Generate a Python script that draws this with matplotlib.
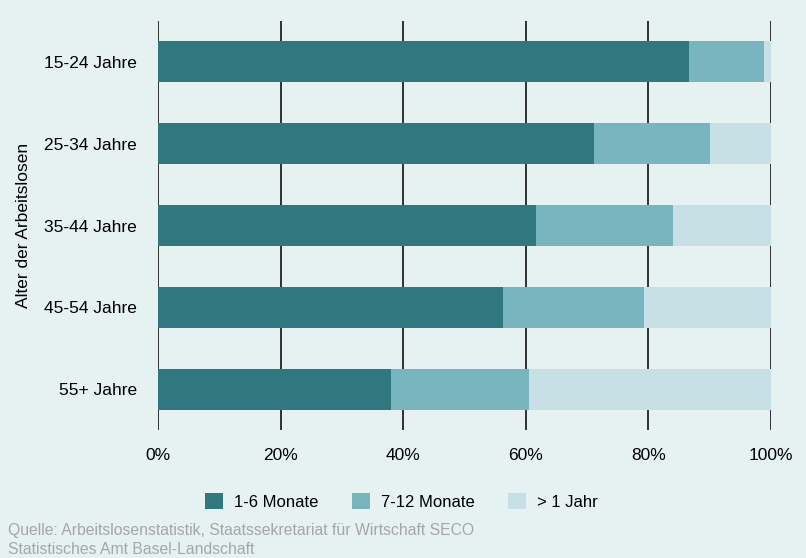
import numpy as np
import matplotlib.pyplot as plt

plt.rcParams['font.family'] = ['Liberation Sans', 'DejaVu Sans']

groups = ['15-24 Jahre', '25-34 Jahre', '35-44 Jahre', '45-54 Jahre', '55+ Jahre']
kurz = [86.6, 71.1, 61.7, 56.3, 38.0]
mittel = [12.3, 18.9, 22.3, 23.0, 22.5]
lang = [1.1, 10.0, 16.0, 20.7, 39.5]
series = ['1-6 Monate', '7-12 Monate', '> 1 Jahr']
colors = ['#307780', '#79b5bf', '#c6e0e5']
bg = '#e6f1f1'

fig = plt.figure(figsize=(8.06, 5.58), dpi=100, facecolor=bg)
ax = fig.add_axes([158/806, 1-430/558, 613/806, 409/558], facecolor=bg)

y = np.arange(len(groups))
left = np.zeros(len(groups))
for vals, name, c in zip([kurz, mittel, lang], series, colors):
    ax.barh(y, vals, left=left, height=0.5, color=c, label=name, zorder=3)
    left = left + np.array(vals)

ax.set_xlim(0, 100)
ax.set_ylim(4.5, -0.5)
ax.set_yticks(y)
ax.set_yticklabels(groups)
ax.set_xticks([0, 20, 40, 60, 80, 100])
ax.set_xticklabels(['0%', '20%', '40%', '60%', '80%', '100%'])
ax.xaxis.grid(True, color='#111111', linewidth=1.2, zorder=0)
ax.tick_params(length=0, labelsize=12.5)
ax.tick_params(axis='x', pad=13)
ax.tick_params(axis='y', pad=15)
for s in ax.spines.values():
    s.set_visible(False)
ax.set_ylabel('Alter der Arbeitslosen', fontsize=12.5)
ax.yaxis.set_label_coords(-(158 - 31) / 613, 0.5)

ax.legend(loc='center', bbox_to_anchor=(0.397, -0.175), ncol=3, frameon=False,
          fontsize=12, handlelength=1.1, handleheight=1.1, columnspacing=2.0, handletextpad=0.65)

fig.text(8/806, 1-530/558, 'Quelle: Arbeitslosenstatistik, Staatssekretariat für Wirtschaft SECO',
         color='#a6a6a6', fontsize=11.3, va='center')
fig.text(8/806, 1-549/558, 'Statistisches Amt Basel-Landschaft',
         color='#a6a6a6', fontsize=11.3, va='center')

fig.savefig('out.png', dpi=100, facecolor=bg)
